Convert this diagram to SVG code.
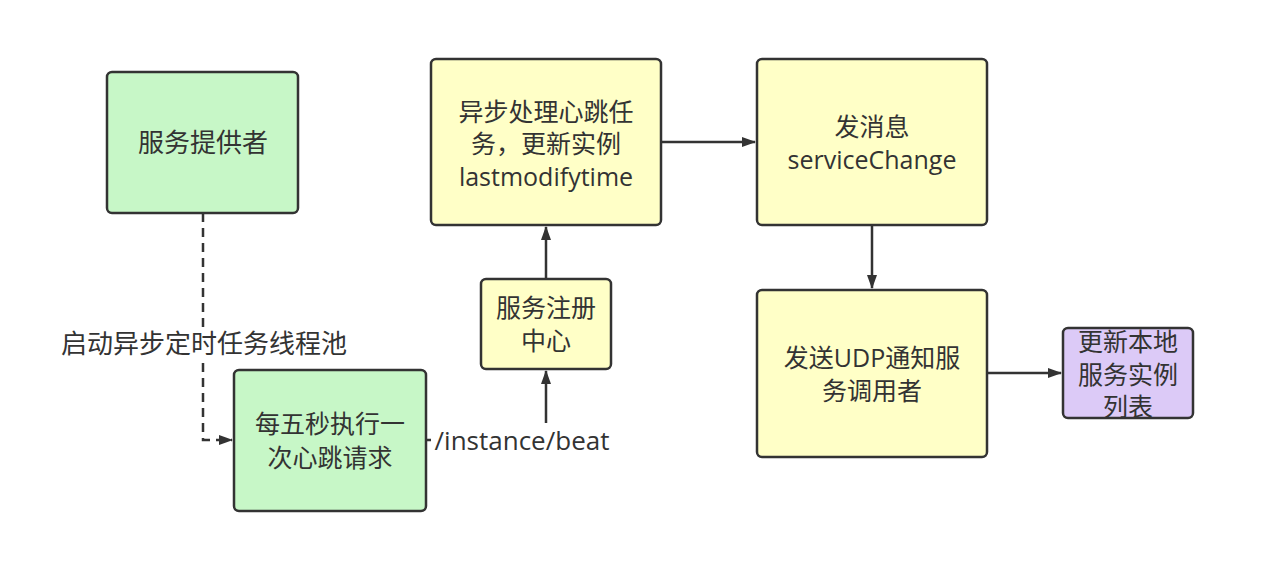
<svg xmlns="http://www.w3.org/2000/svg" width="1268" height="566" viewBox="0 0 1268 566">
<style>
.box{stroke:#333;stroke-width:2.5}
.g{fill:#c7f7c7}
.y{fill:#ffffc7}
.p{fill:#dccaf7}
text{font-family:"Open Sans","Noto Sans CJK SC",sans-serif;font-size:25px;fill:#333;text-anchor:middle;dominant-baseline:central}
.lb{font-size:26px}
.e{fill:none;stroke:#333;stroke-width:2.5}
.d{stroke-dasharray:9 6}
</style>
<defs>
<marker id="ah" viewBox="0 0 14 10" refX="13" refY="5" markerWidth="14" markerHeight="10" markerUnits="userSpaceOnUse" orient="auto">
<path d="M0,0 L14,5 L0,10 Z" fill="#333"/>
</marker>
</defs>
<rect width="1268" height="566" fill="#fff"/>
<g id="connectors">
<path class="e d" d="M203,213 V440 H232" marker-end="url(#ah)"/>
<path class="e" d="M426,440 H546 V371" marker-end="url(#ah)"/>
<path class="e" d="M546,279 V227" marker-end="url(#ah)"/>
<path class="e" d="M661,142 H755" marker-end="url(#ah)"/>
<path class="e" d="M872,225 V288" marker-end="url(#ah)"/>
<path class="e" d="M987,373 H1061" marker-end="url(#ah)"/>
<rect x="58" y="327" width="292" height="32" fill="#fff"/>
<text class="lb" x="204" y="343">启动异步定时任务线程池</text>
<rect x="431" y="423" width="184" height="34" fill="#fff"/>
<text class="lb" x="522" y="440">/instance/beat</text>
</g>
<g id="provider">
<rect class="box g" x="107" y="72" width="191" height="141" rx="5"/>
<text class="lb" x="203" y="142">服务提供者</text>
</g>
<g id="heartbeat">
<rect class="box g" x="234" y="370" width="192" height="141" rx="5"/>
<text x="330" y="423">每五秒执行一</text>
<text x="330" y="457">次心跳请求</text>
</g>
<g id="async">
<rect class="box y" x="431" y="59" width="230" height="166" rx="5"/>
<text x="546" y="111">异步处理心跳任</text>
<text x="546" y="143">务，更新实例</text>
<text x="546" y="176">lastmodifytime</text>
</g>
<g id="registry">
<rect class="box y" x="481" y="279" width="130" height="90" rx="5"/>
<text x="546" y="307">服务注册</text>
<text x="546" y="340">中心</text>
</g>
<g id="msg">
<rect class="box y" x="757" y="59" width="230" height="166" rx="5"/>
<text x="872" y="126">发消息</text>
<text x="872" y="159">serviceChange</text>
</g>
<g id="udp">
<rect class="box y" x="757" y="290" width="230" height="167" rx="5"/>
<text x="872" y="357">发送UDP通知服</text>
<text x="872" y="390">务调用者</text>
</g>
<g id="update">
<rect class="box p" x="1063" y="328" width="130" height="90" rx="5"/>
<text x="1128" y="341">更新本地</text>
<text x="1128" y="374">服务实例</text>
<text x="1128" y="406">列表</text>
</g>
</svg>
